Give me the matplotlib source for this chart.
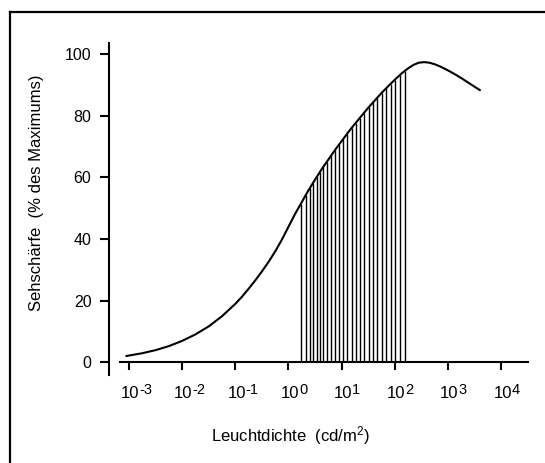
import numpy as np
import matplotlib
matplotlib.use("Agg")
import matplotlib.pyplot as plt
from matplotlib.lines import Line2D

plt.rcParams['font.family'] = ['Liberation Sans', 'DejaVu Sans']
plt.rcParams['mathtext.fontset'] = 'custom'
plt.rcParams['mathtext.rm'] = 'Liberation Sans'
plt.rcParams['mathtext.it'] = 'Liberation Sans'
plt.rcParams['mathtext.default'] = 'regular'

# Curve: log10(luminance in cd/m2) vs visual acuity (% of maximum)
curve_logx = [-3.05, -2.75, -2.5, -2.25, -2.0, -1.75, -1.5, -1.25, -1.0, -0.875,
              -0.75, -0.625, -0.5, -0.375, -0.25, -0.125, 0.0, 0.125, 0.25, 0.375,
              0.5, 0.625, 0.75, 0.875, 1.0, 1.125, 1.25, 1.375, 1.5, 1.625,
              1.75, 1.875, 2.0, 2.125, 2.25, 2.35, 2.45, 2.55, 2.65, 2.75,
              2.875, 3.0, 3.125, 3.25, 3.375, 3.5, 3.6]
curve_y = [2.1, 3.0, 4.0, 5.3, 7.0, 9.1, 11.7, 15.0, 19.0, 21.3,
           23.9, 26.6, 29.5, 32.6, 36.0, 39.8, 44.0, 48.2, 52.0, 55.8,
           59.3, 62.7, 65.8, 68.9, 71.8, 74.7, 77.4, 80.0, 82.6, 85.0,
           87.4, 89.6, 91.7, 93.7, 95.4, 96.5, 97.2, 97.4, 97.2, 96.7,
           95.8, 94.7, 93.5, 92.2, 90.8, 89.4, 88.3]

# Hatched (photopic) range: vertical line positions in log10 units
hatch_logx = [0.235, 0.329, 0.404, 0.466, 0.530, 0.592, 0.654, 0.718, 0.799,
              0.874, 0.955, 1.030, 1.105, 1.188, 1.269, 1.344, 1.425, 1.508,
              1.594, 1.669, 1.752, 1.833, 1.921, 2.002, 2.096, 2.19]

xtick_exp = [-3, -2, -1, 0, 1, 2, 3, 4]
ytick_vals = [0, 20, 40, 60, 80, 100]

fig = plt.figure(figsize=(5.45, 4.63), dpi=100)
ax = fig.add_axes([0.1996, 0.1901, 0.7697, 0.7164])

cx = 10.0 ** np.array(curve_logx)
ax.plot(cx, curve_y, color='black', lw=1.5, solid_capstyle='round', solid_joinstyle='round')

hx = 10.0 ** np.array(hatch_logx)
htop = np.interp(hatch_logx, curve_logx, curve_y)
ax.vlines(hx, 0, htop, color='black', lw=1.0)

ax.set_xscale('log')
ax.set_xlim(10 ** -3.378, 10 ** 4.508)
ax.set_ylim(-4.05, 103.5)

for s in ['top', 'right']:
    ax.spines[s].set_visible(False)
ax.spines['bottom'].set_position(('data', 0))
ax.spines['bottom'].set_bounds(10 ** -3.169, 10 ** 4.508)
ax.spines['bottom'].set_linewidth(1.5)
ax.spines['left'].set_linewidth(1.5)

ax.set_xticks([10.0 ** e for e in xtick_exp])
ax.set_xticklabels([])
ax.xaxis.set_minor_locator(matplotlib.ticker.NullLocator())
ax.set_yticks(ytick_vals)
ax.set_yticklabels([str(v) for v in ytick_vals])

ax.tick_params(axis='x', direction='out', length=5.5, width=1.5)
ax.tick_params(axis='y', direction='out', length=6.5, width=1.5, pad=6, labelsize=11.5)

# x tick labels: "10" with a raised exponent
for e in xtick_exp:
    xv = 10.0 ** e
    ax.annotate('10', xy=(xv, 0), xycoords='data', xytext=(1.0, -25.8),
                textcoords='offset points', ha='center', va='baseline',
                fontsize=12, annotation_clip=False)
    ax.annotate(str(e), xy=(xv, 0), xycoords='data', xytext=(7.6, -22.8),
                textcoords='offset points', ha='left', va='baseline',
                fontsize=10.5, annotation_clip=False)

fig.text(290 / 545, 1 - 436 / 463, r'Leuchtdichte  (cd/m$^{2}$)', ha='center', va='center', fontsize=12)
fig.text(36.5 / 545, 1 - 193 / 463, 'Sehschärfe  (% des Maximums)', ha='center', va='center',
         rotation=90, fontsize=12)

# Frame (left and top edges of the scanned box)
fig.add_artist(Line2D([9.5 / 545, 9.5 / 545], [0, 1 - 12 / 463], transform=fig.transFigure,
                      color='black', lw=1.6))
fig.add_artist(Line2D([9.5 / 545, 1], [1 - 12 / 463, 1 - 12 / 463], transform=fig.transFigure,
                      color='black', lw=1.6))

fig.savefig('out.png', dpi=100)
